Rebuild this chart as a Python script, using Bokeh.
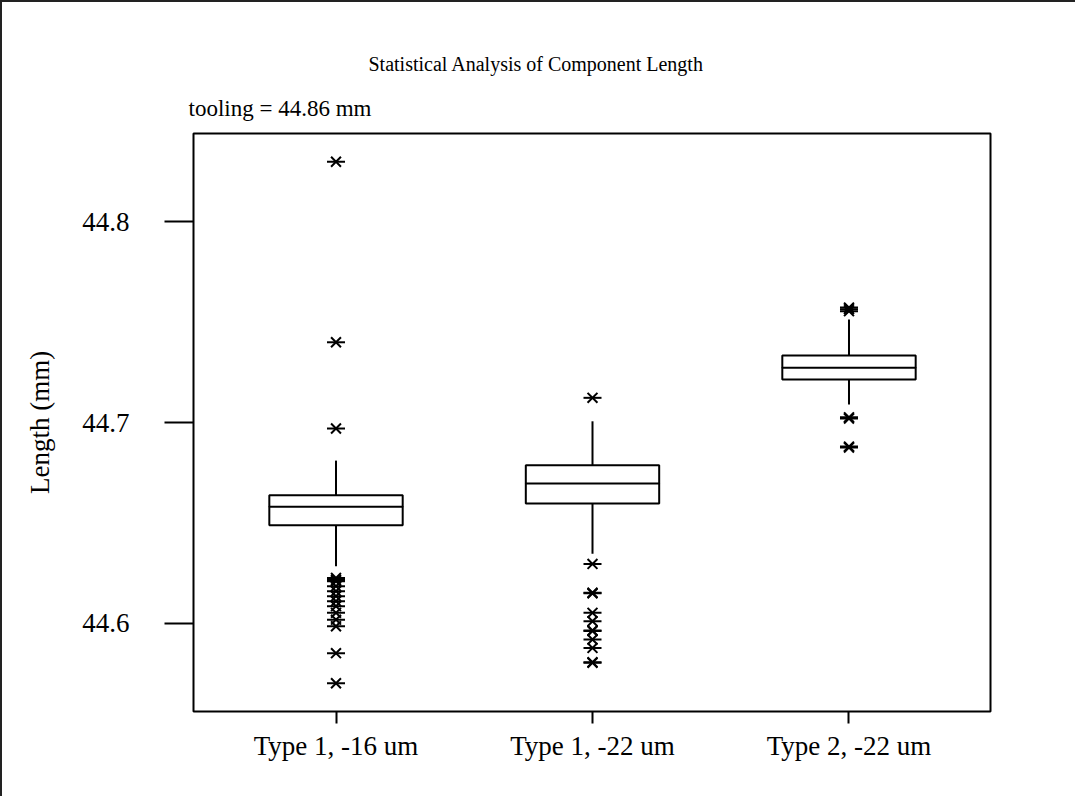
from bokeh.plotting import figure
from bokeh.models import FixedTicker, Title
from bokeh.embed import file_html
from bokeh.resources import INLINE

FONT = "Liberation Serif"

categories = ["Type 1, -16 um", "Type 1, -22 um", "Type 2, -22 um"]
positions = [1, 2, 3]
q1 = [44.6488, 44.6596, 44.7214]
median = [44.6580, 44.6696, 44.7273]
q3 = [44.6637, 44.6787, 44.7334]
whisker_low = [44.6283, 44.6345, 44.7090]
whisker_high = [44.6810, 44.7006, 44.7514]

out1 = [44.830, 44.740, 44.697, 44.6225, 44.6215, 44.6208, 44.6184, 44.6159,
        44.6134, 44.6109, 44.6084, 44.6051, 44.6017, 44.5984, 44.585, 44.570]
out2 = [44.7123, 44.6295, 44.6151, 44.6148, 44.6051, 44.6009, 44.5963, 44.5960,
        44.5918, 44.5876, 44.5805, 44.5802]
out3 = [44.7573, 44.7565, 44.7555, 44.7026, 44.7020, 44.688, 44.6875]
outliers = [out1, out2, out3]

y_ticks = [44.6, 44.7, 44.8]
title_text = "Statistical Analysis of Component Length"
subtitle_text = "tooling = 44.86 mm"

box_width = 0.52

p = figure(output_backend="svg", toolbar_location=None, title=None,
           frame_width=797, frame_height=578,
           min_border_left=191, min_border_top=131,
           min_border_right=85, min_border_bottom=85,
           x_range=(0.4444, 3.5517), y_range=(44.5559, 44.8441))
p.styles = {"border-left": "2px solid #222", "border-top": "2px solid #222"}

p.xgrid.visible = False
p.ygrid.visible = False
p.outline_line_color = "black"
p.outline_line_width = 2
p.outline_line_alpha = 1

for ax in (p.xaxis[0], p.yaxis[0]):
    ax.axis_line_color = None
    ax.minor_tick_line_color = None
    ax.major_tick_in = 0
    ax.major_tick_line_color = "black"
    ax.major_tick_line_width = 2
    ax.major_label_text_font = FONT
    ax.major_label_text_font_size = "27px"
    ax.major_label_text_color = "black"
    ax.axis_label_text_font = FONT
    ax.axis_label_text_font_size = "27px"
    ax.axis_label_text_font_style = "normal"
    ax.axis_label_text_color = "black"

p.yaxis.ticker = FixedTicker(ticks=y_ticks)
p.yaxis.major_tick_out = 29
p.yaxis.major_label_standoff = 35
p.yaxis.axis_label = "Length (mm)"
p.yaxis.axis_label_standoff = 24

p.xaxis.ticker = FixedTicker(ticks=positions)
p.xaxis.major_label_overrides = {pos: cat for pos, cat in zip(positions, categories)}
p.xaxis.major_tick_out = 12
p.xaxis.major_label_standoff = 7

# whiskers
p.segment(x0=positions, y0=q3, x1=positions, y1=whisker_high, line_color="black", line_width=2)
p.segment(x0=positions, y0=whisker_low, x1=positions, y1=q1, line_color="black", line_width=2)
# boxes
p.vbar(x=positions, width=box_width, bottom=q1, top=q3,
       fill_color="white", line_color="black", line_width=2)
# medians
p.rect(x=positions, y=median, width=box_width, height=0.00001,
       fill_color=None, line_color="black", line_width=2)

# outliers (six-armed asterisk: an X plus a horizontal bar)
ox, oy = [], []
for pos, vals in zip(positions, outliers):
    for v in vals:
        ox.append(pos)
        oy.append(v)
p.scatter(x=ox, y=oy, marker="x", size=14, line_color="black", line_width=2)
p.scatter(x=ox, y=oy, marker="dash", size=18, line_color="black", line_width=2)

sub = Title(text=subtitle_text, align="left", offset=-5, standoff=26,
            text_font=FONT, text_font_size="23px", text_font_style="normal",
            text_color="black")
main = Title(text=title_text, align="left", offset=175, standoff=12,
             text_font=FONT, text_font_size="20px", text_font_style="normal",
             text_color="black")
p.add_layout(sub, "above")
p.add_layout(main, "above")

open("out.html", "w").write(file_html(p, INLINE))
